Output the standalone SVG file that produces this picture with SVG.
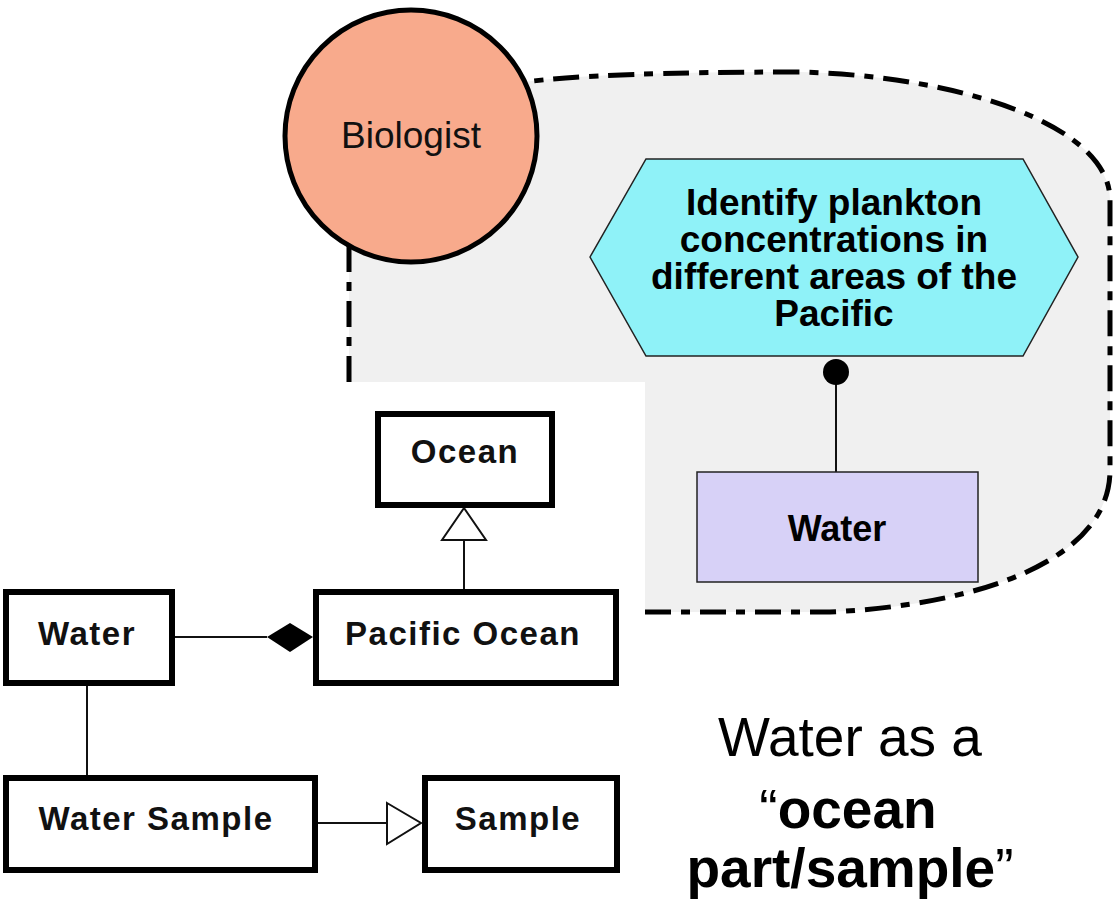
<svg xmlns="http://www.w3.org/2000/svg" width="1114" height="923" viewBox="0 0 1114 923">
  <style>
    .bd { fill: none; stroke: #000; stroke-width: 5; stroke-dasharray: 26 10 9 10; }
    .uml { fill: #fff; stroke: #000; stroke-width: 6; }
    .umlt { font-family: "Liberation Sans", Arial, sans-serif; font-size: 33px; font-weight: bold; letter-spacing: 1.5px; fill: #111; text-anchor: middle; }
    .ln { stroke: #111; stroke-width: 2; fill: none; }
    .hx { font-family: "Liberation Sans", Arial, sans-serif; font-size: 37px; font-weight: bold; fill: #000; text-anchor: middle; }
    .cap { font-family: "Liberation Sans", Arial, sans-serif; font-size: 55px; fill: #000; text-anchor: middle; }
  </style>
  <rect width="1114" height="923" fill="#fff"/>
  <g id="region">
    <path d="M 349 82 L 525 82 Q 600 72 800 72 C 960 76 1110 125 1110 200 L 1110 470 C 1110 560 980 605 830 612 L 645 612 L 645 382 L 349 382 Z" fill="#f0f0f0"/>
    <path class="bd" d="M 349 246 L 349 382"/>
    <path class="bd" d="M 645 612 L 830 612 C 980 605 1110 560 1110 470 L 1110 200 C 1110 125 960 76 800 72 Q 600 72 525 82"/>
  </g>
  <g id="connectors">
    <line class="ln" x1="836" y1="372" x2="836" y2="472"/>
    <circle cx="836" cy="372" r="13" fill="#000"/>
    <line class="ln" x1="464" y1="592" x2="464" y2="540"/>
    <polygon points="464,508 442,540 486,540" fill="#fff" stroke="#111" stroke-width="2"/>
    <line class="ln" x1="172" y1="637" x2="267" y2="637"/>
    <polygon points="267,637 290,623 313,637 290,652" fill="#000"/>
    <line class="ln" x1="87" y1="683" x2="87" y2="778"/>
    <line class="ln" x1="315" y1="823" x2="387" y2="823"/>
    <polygon points="387,803 421,823 387,844" fill="#fff" stroke="#111" stroke-width="2"/>
  </g>
  <g id="biologist">
    <circle cx="411" cy="136" r="126" fill="#f8aa8c" stroke="#000" stroke-width="5"/>
    <text x="411" y="148" font-family="Liberation Sans, Arial, sans-serif" font-size="37" fill="#111" text-anchor="middle">Biologist</text>
  </g>
  <g id="goal">
    <polygon points="590,257 646,159 1023,159 1078,257 1023,356 646,356" fill="#8ff2f8" stroke="#222" stroke-width="1.5"/>
    <text class="hx" x="834" y="215">Identify plankton</text>
    <text class="hx" x="834" y="252">concentrations in</text>
    <text class="hx" x="834" y="289">different areas of the</text>
    <text class="hx" x="834" y="326">Pacific</text>
  </g>
  <g id="water-resource">
    <rect x="697" y="472" width="281" height="110" fill="#d7d1f7" stroke="#222" stroke-width="1.5"/>
    <text x="837" y="541" font-family="Liberation Sans, Arial, sans-serif" font-size="36" font-weight="bold" fill="#000" text-anchor="middle">Water</text>
  </g>
  <g id="ocean">
    <rect class="uml" x="378" y="414" width="174" height="91"/>
    <text class="umlt" x="465" y="463">Ocean</text>
  </g>
  <g id="pacific-ocean">
    <rect class="uml" x="316" y="592" width="300" height="91"/>
    <text class="umlt" x="463" y="645">Pacific Ocean</text>
  </g>
  <g id="water">
    <rect class="uml" x="6" y="592" width="166" height="91"/>
    <text class="umlt" x="87" y="645">Water</text>
  </g>
  <g id="water-sample">
    <rect class="uml" x="6" y="778" width="309" height="92"/>
    <text class="umlt" x="156" y="830">Water Sample</text>
  </g>
  <g id="sample">
    <rect class="uml" x="425" y="778" width="192" height="92"/>
    <text class="umlt" x="518" y="830">Sample</text>
  </g>
  <g id="caption">
    <text class="cap" x="850" y="756">Water as a</text>
    <text class="cap" x="848" y="828">“<tspan font-weight="bold">ocean</tspan></text>
    <text class="cap" x="850" y="887"><tspan font-weight="bold">part/sample</tspan>”</text>
  </g>
</svg>
